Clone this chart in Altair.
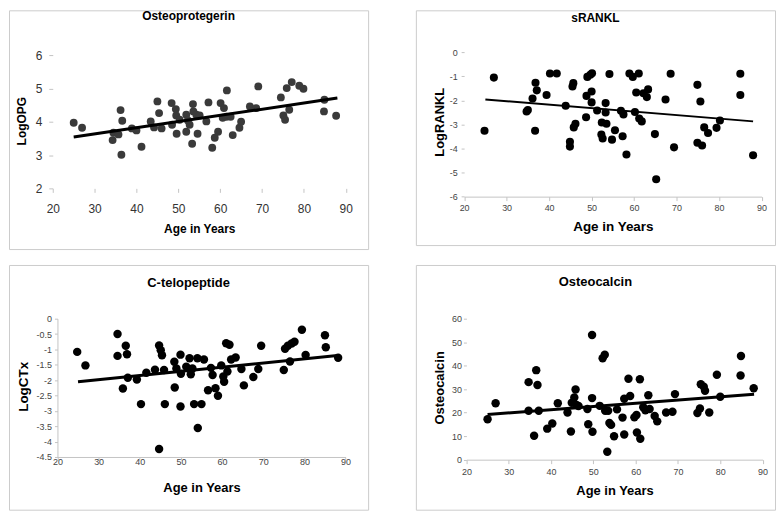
import altair as alt
import pandas as pd

FONT = "Liberation Sans"

x_ticks = [20, 30, 40, 50, 60, 70, 80, 90]
trend_age = [25, 88]

# Osteoprotegerin
opg_age = [25.0, 27.0, 34.3, 34.5, 35.7, 36.2, 36.4, 36.6, 38.9, 40.0, 41.2, 43.4, 44.2, 45.0, 45.4,
           46.0, 48.4, 48.5, 49.4, 49.5, 49.6, 50.3, 51.9, 51.9, 52.3, 52.7, 53.3, 53.5, 53.6, 54.3,
           54.6, 55.1, 56.7, 57.2, 58.1, 58.7, 59.5, 60.1, 60.6, 60.9, 61.5, 61.6, 62.5, 63.0, 64.6,
           65.0, 67.1, 68.6, 69.1, 74.5, 75.1, 75.5, 75.9, 76.5, 77.1, 78.9, 79.9, 84.9, 84.8, 87.7]
opg_val = [3.97, 3.82, 3.45, 3.67, 3.62, 4.35, 3.01, 4.03, 3.80, 3.74, 3.25, 4.01, 3.83, 4.61, 4.26,
           3.80, 4.56, 3.91, 4.38, 4.19, 3.64, 4.06, 3.70, 4.21, 4.04, 3.91, 3.34, 4.53, 4.31, 4.21,
           3.64, 4.19, 4.01, 4.58, 3.22, 3.52, 3.70, 4.56, 4.12, 4.41, 4.15, 4.94, 4.15, 3.60, 3.82,
           4.00, 4.46, 4.41, 5.06, 4.73, 4.19, 4.06, 5.01, 4.36, 5.19, 5.08, 4.99, 4.66, 4.31, 4.18]
opg_trend = [3.54, 4.71]

# sRANKL
rankl_age = [24.8, 27.0, 34.7, 35.0, 36.1, 36.7, 36.8, 37.1, 39.4, 40.2, 41.8, 43.9, 44.9, 44.9, 45.5,
             45.7, 45.8, 46.2, 48.7, 48.8, 49.0, 49.7, 50.1, 50.0, 50.0, 51.3, 52.4, 52.3, 52.6, 53.5,
             53.3, 53.3, 54.2, 54.8, 55.5, 56.9, 57.5, 57.3, 58.2, 58.9, 59.7, 60.2, 60.5, 61.1, 61.2,
             61.8, 62.2, 63.0, 63.3, 64.9, 65.2, 67.4, 68.6, 69.4, 74.9, 74.9, 75.6, 76.0, 76.5, 77.4,
             79.4, 80.2, 85.0, 85.0, 88.0]
rankl_val = [-3.26, -1.05, -2.46, -2.40, -1.92, -3.26, -1.26, -1.58, -1.77, -0.88, -0.88, -2.22, -3.72, -3.92, -1.42,
             -1.28, -3.12, -2.97, -2.70, -1.81, -1.02, -0.93, -0.87, -1.63, -2.08, -2.42, -2.92, -3.42, -3.58, -2.97,
             -2.11, -2.50, -0.90, -3.63, -3.24, -2.43, -2.58, -3.49, -4.25, -0.88, -1.02, -2.48, -1.67, -0.88, -2.75,
             -2.87, -1.70, -1.86, -1.54, -3.40, -5.28, -1.96, -0.89, -3.95, -1.35, -3.76, -2.04, -3.87, -3.12, -3.35,
             -3.14, -2.83, -0.89, -1.77, -4.28]
rankl_trend = [-1.96, -2.87]

# C-telopeptide
ctx_age = [24.8, 26.8, 34.6, 34.6, 35.9, 36.6, 36.9, 37.1, 39.3, 40.3, 41.6, 43.7, 44.7, 44.7, 45.1,
           45.4, 45.9, 46.1, 48.4, 48.5, 48.9, 49.9, 50.0, 49.9, 51.3, 52.1, 52.4, 52.8, 53.2, 54.0,
           54.1, 55.0, 55.6, 56.6, 57.3, 57.7, 58.4, 59.0, 59.8, 60.3, 60.5, 61.0, 61.8, 61.3, 62.2,
           63.3, 64.7, 65.3, 67.6, 68.8, 69.5, 75.0, 75.3, 76.0, 76.5, 76.9, 77.6, 79.4, 80.3, 85.0,
           85.2, 88.2]
ctx_val = [-1.08, -1.52, -0.50, -1.21, -2.27, -0.88, -1.16, -1.92, -1.98, -2.78, -1.76, -1.66, -4.24, -0.87, -1.03,
           -1.19, -1.67, -2.78, -1.40, -2.24, -1.62, -1.17, -1.79, -2.86, -1.56, -1.29, -1.81, -1.62, -2.78, -1.29,
           -3.56, -2.78, -1.33, -2.33, -1.60, -1.83, -2.26, -2.51, -1.52, -1.88, -2.05, -0.80, -0.85, -1.72, -1.33,
           -1.26, -1.64, -2.17, -1.90, -1.64, -0.88, -1.67, -0.98, -0.88, -1.39, -0.81, -0.75, -0.36, -1.18, -0.54,
           -0.93, -1.27]
ctx_trend = [-2.05, -1.20]

# Osteocalcin
oc_age = [25.0, 26.9, 34.7, 34.7, 36.0, 36.5, 36.8, 37.1, 39.1, 40.3, 41.6, 43.9, 44.7, 44.9, 45.5,
          45.8, 46.0, 46.5, 48.6, 48.8, 49.7, 49.7, 49.8, 51.5, 52.2, 52.7, 52.8, 53.3, 53.5, 53.8,
          54.2, 54.9, 55.6, 56.9, 57.3, 57.3, 58.3, 58.7, 59.7, 60.2, 60.3, 61.0, 61.1, 61.8, 62.3,
          63.0, 63.3, 64.5, 65.1, 67.2, 68.7, 69.3, 74.6, 75.2, 75.4, 76.1, 76.4, 77.4, 79.2, 80.0,
          84.8, 84.9, 87.9]
oc_val = [17.2, 24.0, 33.0, 20.8, 10.2, 38.1, 31.8, 20.8, 13.2, 15.4, 24.0, 20.1, 12.0, 24.2, 26.5,
          29.9, 23.3, 22.8, 21.6, 15.1, 53.1, 26.2, 11.9, 22.9, 43.2, 44.7, 20.8, 3.4, 20.8, 15.6,
          14.8, 10.0, 21.4, 17.9, 25.9, 10.7, 34.4, 27.1, 18.0, 19.0, 11.6, 34.2, 8.9, 22.3, 21.0,
          27.4, 21.6, 18.6, 16.3, 20.1, 20.4, 27.9, 19.9, 21.8, 32.1, 31.0, 29.3, 20.1, 36.1, 26.8,
          35.8, 44.1, 30.4]
oc_trend = [19.2, 27.8]


def panel(ages, vals, trend_vals, title, ytitle, ydomain, yticks, st):
    pts = pd.DataFrame({"age": ages, "val": vals})
    tr = pd.DataFrame({"age": trend_age, "val": trend_vals})
    ttl = pd.DataFrame({"t": [title]})
    W, H = st["W"], st["H"]
    xr, yr = st["xr"], st["yr"]
    xscale = alt.Scale(domain=[20, 90], range=xr, nice=False, zero=False)
    yscale = alt.Scale(domain=ydomain, range=yr, nice=False, zero=False)
    xaxis = alt.Axis(
        values=x_ticks, title="Age in Years", offset=-(H - yr[0]), grid=False,
        domain=st["xdom"], domainColor="#c4c4c4", tickColor="#c4c4c4",
        tickSize=st["xts"], labelPadding=st["xlp"], labelFontSize=st["lfs"],
        labelColor=st["lc"], labelFont=FONT, labelFlush=False, labelOverlap=False,
        labelExpr="datum.value + ''",
        titleFont=FONT, titleFontSize=st["xtfs"], titleFontWeight="bold", titleColor="black",
        titleY=st["xty"], titleBaseline="middle",
    )
    yaxis = alt.Axis(
        values=yticks, title=ytitle, offset=-xr[0], grid=False,
        domain=st["ydom"], domainColor="#c4c4c4", tickColor="#c4c4c4",
        tickSize=st["yts"], labelPadding=st["ylp"], labelFontSize=st["lfs"],
        labelColor=st["lc"], labelFont=FONT, labelOverlap=False,
        labelExpr="datum.value + ''",
        titleFont=FONT, titleFontSize=st["ytfs"], titleFontWeight="bold", titleColor="black",
        titleX=st["ytx"], titleY=st["yty"], titleBaseline="middle", titleAlign="center",
    )
    points = alt.Chart(pts).mark_circle(size=st["ms"], color=st["mc"], opacity=1).encode(
        x=alt.X("age:Q", scale=xscale, axis=xaxis),
        y=alt.Y("val:Q", scale=yscale, axis=yaxis),
    )
    line = alt.Chart(tr).mark_line(color="black", strokeWidth=st["lw"]).encode(
        x=alt.X("age:Q", scale=xscale, axis=xaxis),
        y=alt.Y("val:Q", scale=yscale, axis=yaxis),
    )
    head = alt.Chart(ttl).mark_text(
        font=FONT, fontSize=st["tfs"], fontWeight="bold", color="black",
        align="center", baseline="middle",
    ).encode(text="t:N", x=alt.value(W / 2), y=alt.value(st["ty"]))
    return alt.layer(points, line, head).properties(width=W, height=H)


p1 = panel(opg_age, opg_val, opg_trend, "Osteoprotegerin", "LogOPG", [2, 6], [2, 3, 4, 5, 6],
           dict(W=361, H=240, xr=[44, 338.5], yr=[179, 45], xdom=False, ydom=False,
                xts=4, xlp=11, yts=4, ylp=7, lfs=12, lc="#333333", xtfs=12, ytfs=12,
                xty=40, ytx=-31, yty=111, ms=62, mc="#3a3a3a", lw=3, tfs=12, ty=6))
p2 = panel(rankl_age, rankl_val, rankl_trend, "sRANKL", "LogRANKL", [-6, 0], [-6, -5, -4, -3, -2, -1, 0],
           dict(W=361, H=236, xr=[48.5, 347.5], yr=[187.3, 42.3], xdom=True, ydom=False,
                xts=4, xlp=3, yts=3, ylp=4, lfs=9, lc="#444444", xtfs=13.5, ytfs=13,
                xty=30, ytx=-25, yty=112, ms=66, mc="black", lw=2, tfs=12, ty=8))
p3 = panel(ctx_age, ctx_val, ctx_trend, "C-telopeptide", "LogCTx", [-4.5, 0],
           [-4.5, -4, -3.5, -3, -2.5, -2, -1.5, -1, -0.5, 0],
           dict(W=361, H=246, xr=[48.7, 338.3], yr=[193, 54], xdom=True, ydom=True,
                xts=3, xlp=-2.5, yts=3, ylp=3, lfs=9, lc="#444444", xtfs=13, ytfs=13.5,
                xty=31, ytx=-34, yty=122, ms=72, mc="black", lw=3, tfs=13, ty=18))
p4 = panel(oc_age, oc_val, oc_trend, "Osteocalcin", "Osteocalcin", [0, 60], [0, 10, 20, 30, 40, 50, 60],
           dict(W=361, H=246, xr=[50.8, 348.5], yr=[195.7, 54], xdom=True, ydom=False,
                xts=4, xlp=4, yts=3, ylp=2, lfs=9, lc="#444444", xtfs=13, ytfs=13,
                xty=31, ytx=-26.7, yty=123, ms=72, mc="black", lw=3, tfs=13, ty=17))

chart = alt.vconcat(
    alt.hconcat(p1, p2, spacing=46),
    alt.hconcat(p3, p4, spacing=46),
    spacing=14,
).properties(padding=0, background="white").configure_view(
    stroke="#cccccc", strokeWidth=1
)

chart.save("out.html", embed_options={"renderer": "svg", "actions": False})
